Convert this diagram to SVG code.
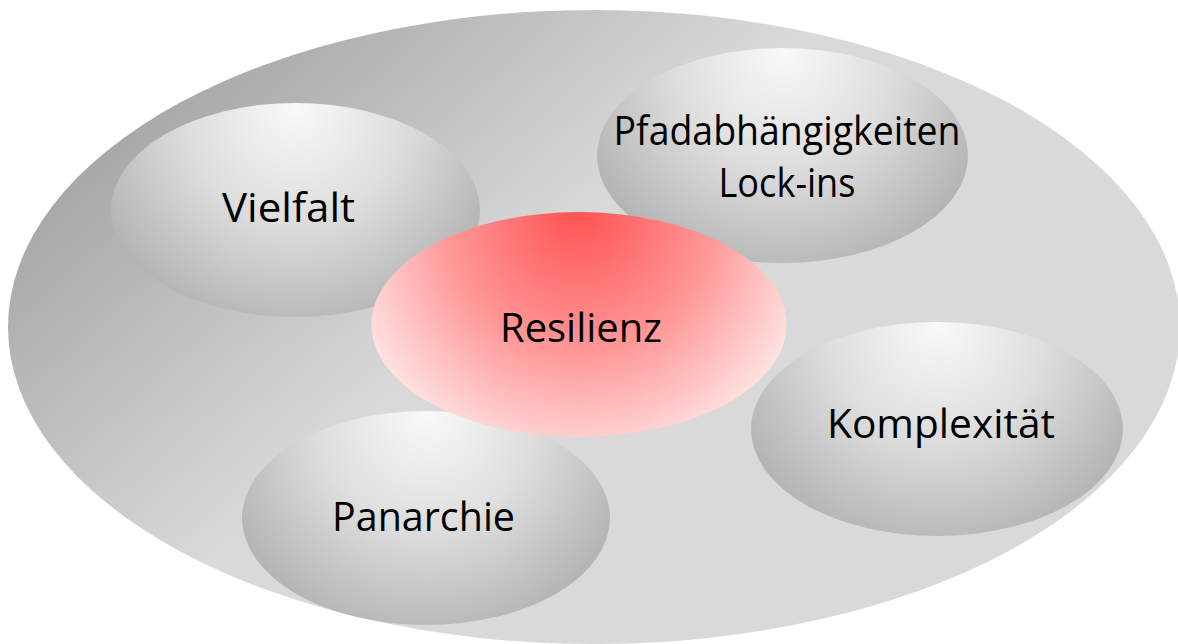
<svg xmlns="http://www.w3.org/2000/svg" width="1178" height="644" viewBox="0 0 1178 644">
<defs>
<linearGradient id="gOuter" gradientUnits="userSpaceOnUse" x1="170" y1="70" x2="430" y2="360">
<stop offset="0" stop-color="#a6a6a6"/>
<stop offset="1" stop-color="#d9d9d9"/>
</linearGradient>
<radialGradient id="gGray" cx="0.5" cy="0.08" r="0.58" fx="0.5" fy="0.04" gradientTransform="translate(0.5 0.08) scale(1 1.73) translate(-0.5 -0.08)">
<stop offset="0" stop-color="#f9f9f9"/>
<stop offset="0.5" stop-color="#dedede"/>
<stop offset="1" stop-color="#b4b4b4"/>
</radialGradient>
<radialGradient id="gRed" cx="0.5" cy="0.1" r="0.58" fx="0.5" fy="0.03" gradientTransform="translate(0.5 0.1) scale(1 1.84) translate(-0.5 -0.1)">
<stop offset="0" stop-color="#ff5050"/>
<stop offset="0.55" stop-color="#ff9898"/>
<stop offset="1" stop-color="#ffe6e6"/>
</radialGradient>
<style>
.gray{fill:url(#gGray);}
.lbl{font-family:"Open Sans","Noto Sans",sans-serif;font-size:40px;fill:#000;text-anchor:middle;}
</style>
</defs>
<rect width="1178" height="644" fill="#ffffff"/>
<g id="outer">
<ellipse cx="594" cy="327" rx="586" ry="317" fill="url(#gOuter)"/>
</g>
<g id="vielfalt">
<ellipse class="gray" cx="295.5" cy="210" rx="184.5" ry="107"/>
<text class="lbl" x="288.5" y="222" textLength="133" lengthAdjust="spacingAndGlyphs">Vielfalt</text>
</g>
<g id="pfad">
<ellipse class="gray" cx="782.5" cy="155.5" rx="185.5" ry="107.5"/>
<text class="lbl" x="787" y="145" textLength="347" lengthAdjust="spacingAndGlyphs">Pfadabhängigkeiten</text>
<text class="lbl" x="787" y="197" textLength="137" lengthAdjust="spacingAndGlyphs">Lock-ins</text>
</g>
<g id="panarchie">
<ellipse class="gray" cx="426" cy="518" rx="184" ry="107"/>
<text class="lbl" x="423.5" y="531" textLength="183" lengthAdjust="spacingAndGlyphs">Panarchie</text>
</g>
<g id="komplexitaet">
<ellipse class="gray" cx="937" cy="429" rx="186" ry="107"/>
<text class="lbl" x="941" y="438" textLength="228" lengthAdjust="spacingAndGlyphs">Komplexität</text>
</g>
<g id="resilienz">
<ellipse cx="579" cy="324.5" rx="207.5" ry="112.5" fill="url(#gRed)"/>
<text class="lbl" x="581" y="342" textLength="162" lengthAdjust="spacingAndGlyphs">Resilienz</text>
</g>
<g id="connectors"/>
</svg>
